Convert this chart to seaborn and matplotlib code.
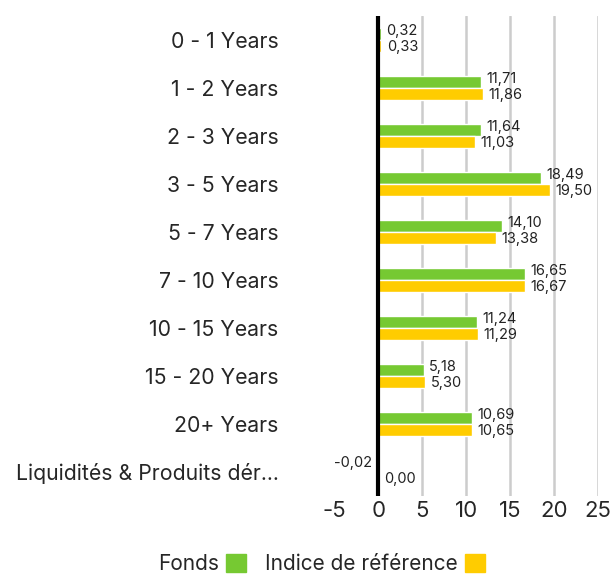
import numpy as np
import pandas as pd
import matplotlib
matplotlib.use("Agg")
import matplotlib.pyplot as plt
import seaborn as sns

categories = ["0 - 1 Years", "1 - 2 Years", "2 - 3 Years", "3 - 5 Years", "5 - 7 Years",
              "7 - 10 Years", "10 - 15 Years", "15 - 20 Years", "20+ Years",
              "Liquidités & Produits dér..."]
fonds = [0.32, 11.71, 11.64, 18.49, 14.10, 16.65, 11.24, 5.18, 10.69, -0.02]
indice = [0.33, 11.86, 11.03, 19.50, 13.38, 16.67, 11.29, 5.30, 10.65, 0.00]
series = ["Fonds", "Indice de référence"]
colors = ["#76C932", "#FFCC00"]

df = pd.DataFrame({
    "cat": categories * 2,
    "val": fonds + indice,
    "serie": [series[0]] * len(categories) + [series[1]] * len(categories),
})

sns.set_style("white")
plt.rcParams["font.family"] = ["Inter", "DejaVu Sans"]

fig = plt.figure(figsize=(6.11, 5.74), dpi=100)
ax = fig.add_axes([0.547, 0.136, 0.432, 0.836])

sns.barplot(data=df, x="val", y="cat", hue="serie", palette=colors, orient="h",
            width=0.5, ax=ax, legend=False, saturation=1)

# labels sit a bit above (Fonds) and below (Indice) their bars
for cont, vals, dy in zip(ax.containers, [fonds, indice], [2, -1]):
    labels = [f"{v:.2f}".replace(".", ",") for v in vals]
    txts = ax.bar_label(cont, labels=labels, padding=4, fontsize=10.5, color="#222222")
    for t in txts:
        x0, y0 = t.xyann
        t.xyann = (x0, y0 + dy)

ax.set_xlim(-5, 25)
ax.set_xticks([-5, 0, 5, 10, 15, 20, 25])
ax.set_xticklabels(["-5", "0", "5", "10", "15", "20", "25"], fontsize=16)
for x in [5, 10, 15, 20, 25]:
    ax.axvline(x, color="#cccccc", lw=1.8, zorder=0)
ax.axvline(0, color="black", lw=3, zorder=3)
ax.tick_params(axis="y", labelsize=15.3, length=0, pad=40)
ax.tick_params(axis="x", length=0, pad=4)
ax.set_xlabel("")
ax.set_ylabel("")
sns.despine(ax=ax, left=True, bottom=True)

handles = [plt.Rectangle((0, 0), 1, 1, color=c) for c in colors]
fig.legend(handles, series, loc="lower center", bbox_to_anchor=(0.526, -0.033), ncol=2,
           frameon=False, markerfirst=False, handlelength=0.95, handleheight=0.95,
           fontsize=15, columnspacing=0.9, handletextpad=0.35)

fig.savefig("out.png", dpi=100)
